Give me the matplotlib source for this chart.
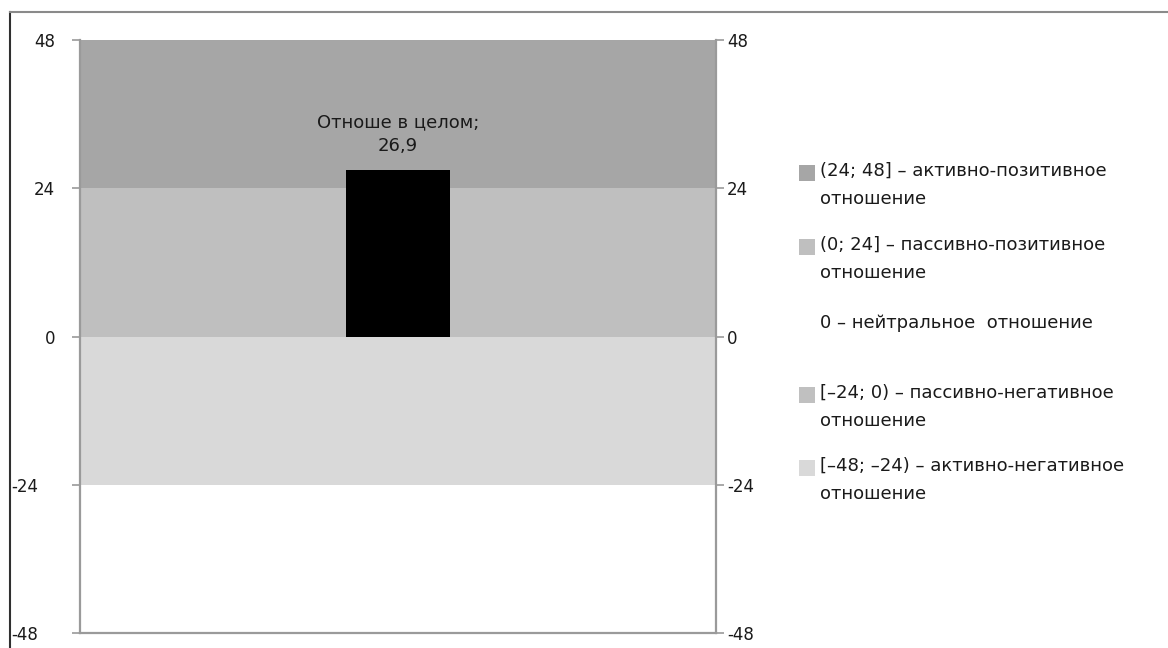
import matplotlib
matplotlib.use("Agg")
import matplotlib.pyplot as plt
import matplotlib.transforms as mtrans
from matplotlib.patches import Rectangle
from matplotlib.lines import Line2D

plt.rcParams["font.family"] = ["DejaVu Sans"]

# --- data -------------------------------------------------------------------
category = ["Отноше в целом"]
value = [26.9]
value_label = "Отноше в целом;\n26,9"

band_low = [24, 0, -24]
band_high = [48, 24, 0]
band_colors = ["#a6a6a6", "#bfbfbf", "#d9d9d9"]

yticks = [48, 24, 0, -24, -48]

legend_labels = ["(24; 48] – активно-позитивное\nотношение",
                 "(0; 24] – пассивно-позитивное\nотношение",
                 "0 – нейтральное  отношение",
                 "[–24; 0) – пассивно-негативное\nотношение",
                 "[–48; –24) – активно-негативное\nотношение"]
legend_colors = ["#a6a6a6", "#bfbfbf", None, "#c0c0c0", "#d9d9d9"]

FS = 13
TXT = "#1a1a1a"

# --- figure -----------------------------------------------------------------
W, H = 1168, 648
fig = plt.figure(figsize=(W / 100, H / 100), dpi=100)
ax = fig.add_axes([80 / W, 1 - 633 / H, 636 / W, 593 / H])

for lo, hi, c in zip(band_low, band_high, band_colors):
    ax.axhspan(lo, hi, color=c, lw=0, zorder=0)

ax.bar([0], value, width=0.165, color="black", zorder=2)
ax.annotate(value_label, (0, value[0]), xytext=(0, 11), textcoords="offset points",
            ha="center", va="bottom", fontsize=FS, color=TXT, linespacing=1.4)

ax.set_xlim(-0.5, 0.5)
ax.set_ylim(-48, 48)
ax.set_xticks([])
ax.set_yticks(yticks)
ax.set_yticklabels([str(t) for t in yticks])
ax.tick_params(axis="y", direction="out", length=6, width=1.2, color="#9a9a9a",
               labelsize=FS - 1, pad=12, labelcolor=TXT, right=True, labelright=True)
for t, v in zip(ax.yaxis.get_major_ticks(), yticks):
    # right labels sit closer to their ticks
    t.label2.set_transform(t.label2.get_transform() +
                           mtrans.ScaledTranslation(-14 / 100, 0, fig.dpi_scale_trans))
    # negative labels on the left sit further out, as in the source chart
    if v < 0:
        t.label1.set_transform(t.label1.get_transform() +
                               mtrans.ScaledTranslation(-17 / 100, 0, fig.dpi_scale_trans))

for s in ["left", "right", "bottom"]:
    ax.spines[s].set_color("#9a9a9a")
    ax.spines[s].set_linewidth(1.6)
ax.spines["top"].set_visible(False)

# --- legend (hand placed) ---------------------------------------------------
leg_y = [173, 247, 325, 395, 468]
for lab, col, yy in zip(legend_labels, legend_colors, leg_y):
    if col is not None:
        fig.patches.append(Rectangle((799 / W, 1 - (yy + 8) / H), 16 / W, 16 / H,
                                     transform=fig.transFigure, facecolor=col,
                                     edgecolor="none"))
    fig.text(820 / W, 1 - (yy - 11) / H, lab, ha="left", va="top", fontsize=FS,
             color=TXT, linespacing=1.68)

# frame lines of the cropped chart area
fig.add_artist(Line2D([10 / W, 10 / W], [0, 1 - 12 / H], transform=fig.transFigure,
                      color="#303030", lw=1.5))
fig.add_artist(Line2D([10 / W, 1], [1 - 12 / H, 1 - 12 / H], transform=fig.transFigure,
                      color="#8a8a8a", lw=1.5))

fig.savefig("out.png", dpi=100)
